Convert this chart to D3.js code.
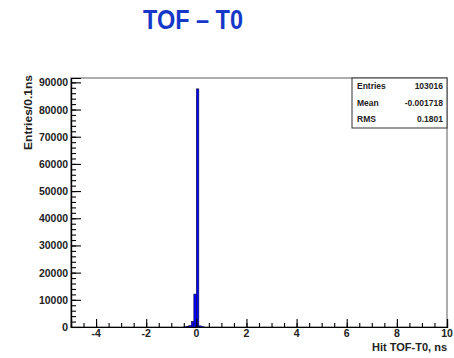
<!DOCTYPE html>
<html>
<head>
<meta charset="utf-8">
<script src="https://cdn.jsdelivr.net/npm/d3@7"></script>
<style>
  body { margin: 0; background: #fff; }
  text { font-family: "Liberation Sans", Arial, sans-serif; }
</style>
</head>
<body>
<div id="chart"></div>
<script>
// bins of 0.1 ns: lower edge and count
const binStart = [-0.5, -0.4, -0.3, -0.2, -0.1, 0.0, 0.1, 0.2];
const binCount = [60, 150, 500, 2000, 12100, 87600, 400, 100];
const xTicks = [-4, -2, 0, 2, 4, 6, 8, 10];
const yTicks = [0, 10000, 20000, 30000, 40000, 50000, 60000, 70000, 80000, 90000];
const statNames = ["Entries", "Mean", "RMS"];
const statValues = ["103016", "-0.001718", "0.1801"];

const W = 454, H = 358;
const m = { left: 71, right: 7, top: 78, bottom: 31 };

const svg = d3.select("#chart").append("svg")
    .attr("width", W).attr("height", H);

// 标题 (窄体字, 用 textLength 压缩)
svg.append("text")
    .attr("x", 143).attr("y", 29)
    .attr("textLength", 100).attr("lengthAdjust", "spacingAndGlyphs")
    .style("font-size", "27px").style("font-weight", "bold")
    .attr("fill", "#1538c8")
    .text("TOF \u2013 T0");

const x = d3.scaleLinear().domain([-5, 10]).range([m.left, W - m.right]);
const y = d3.scaleLinear().domain([0, 91600]).range([H - m.bottom, m.top]);

// frame
svg.append("rect")
    .attr("x", m.left).attr("y", m.top)
    .attr("width", W - m.right - m.left).attr("height", H - m.bottom - m.top)
    .attr("fill", "none").attr("stroke", "#777").attr("stroke-width", 1.2);

// histogram
svg.append("g").selectAll("rect")
    .data(binStart.map((s, i) => ({ s: s, c: binCount[i] })))
    .join("rect")
    .attr("x", d => x(d.s))
    .attr("width", d => x(d.s + 0.1) - x(d.s))
    .attr("y", d => y(d.c))
    .attr("height", d => y(0) - y(d.c))
    .attr("fill", "#0000ff")
    .attr("stroke", "#101040").attr("stroke-width", 0.6);

// x axis
const gx = svg.append("g").attr("transform", `translate(0,${H - m.bottom})`);
gx.call(d3.axisTop(x).tickValues(d3.range(-4.5, 10, 0.5)).tickSize(4).tickFormat(""));
gx.append("g").call(d3.axisTop(x).tickValues(xTicks).tickSize(8).tickFormat(""));
gx.selectAll(".domain").attr("stroke", "#000").attr("stroke-width", 1.2);
gx.selectAll(".tick line").attr("stroke", "#000").attr("stroke-width", 1.1);
gx.selectAll("text.lbl").data(xTicks).join("text")
    .attr("class", "lbl")
    .attr("x", d => x(d)).attr("y", 10)
    .attr("text-anchor", "middle")
    .style("font-size", "10.5px").style("font-weight", "bold").attr("fill", "#222")
    .text(d => d);

// y axis
const gy = svg.append("g").attr("transform", `translate(${m.left},0)`);
gy.call(d3.axisRight(y).tickValues(d3.range(2000, 91600, 2000)).tickSize(5).tickFormat(""));
gy.append("g").call(d3.axisRight(y).tickValues(yTicks).tickSize(10).tickFormat(""));
gy.selectAll(".domain").attr("stroke", "#000").attr("stroke-width", 1.2);
gy.selectAll(".tick line").attr("stroke", "#000").attr("stroke-width", 1.1);
gy.selectAll("text.lbl").data(yTicks).join("text")
    .attr("class", "lbl")
    .attr("x", -3).attr("y", d => y(d) + 4)
    .attr("text-anchor", "end")
    .attr("textLength", d => d === 0 ? null : 29).attr("lengthAdjust", "spacingAndGlyphs")
    .style("font-size", "11px").style("font-weight", "bold").attr("fill", "#222")
    .text(d => d);

// axis titles
svg.append("text")
    .attr("x", W - m.right).attr("y", 351)
    .attr("text-anchor", "end")
    .style("font-size", "11px").style("font-weight", "bold").attr("fill", "#222")
    .text("Hit TOF-T0, ns");
svg.append("text")
    .attr("transform", `translate(32,75) rotate(-90)`)
    .attr("text-anchor", "end")
    .attr("textLength", 75).attr("lengthAdjust", "spacingAndGlyphs")
    .style("font-size", "11px").style("font-weight", "bold").attr("fill", "#222")
    .text("Entries/0.1ns");

// stats box
const bx = 352, bw = W - m.right - bx, bh = 50;
svg.append("rect")
    .attr("x", bx).attr("y", m.top).attr("width", bw).attr("height", bh)
    .attr("fill", "#fff").attr("stroke", "#333").attr("stroke-width", 1);
statNames.forEach((n, i) => {
    const ty = m.top + 11 + i * 16.5;
    svg.append("text").attr("x", bx + 5).attr("y", ty)
        .style("font-size", "8.5px").style("font-weight", "bold").attr("fill", "#222")
        .text(n);
    svg.append("text").attr("x", bx + bw - 4).attr("y", ty)
        .attr("text-anchor", "end")
        .style("font-size", "8.5px").style("font-weight", "bold").attr("fill", "#222")
        .text(statValues[i]);
});
</script>
</body>
</html>
